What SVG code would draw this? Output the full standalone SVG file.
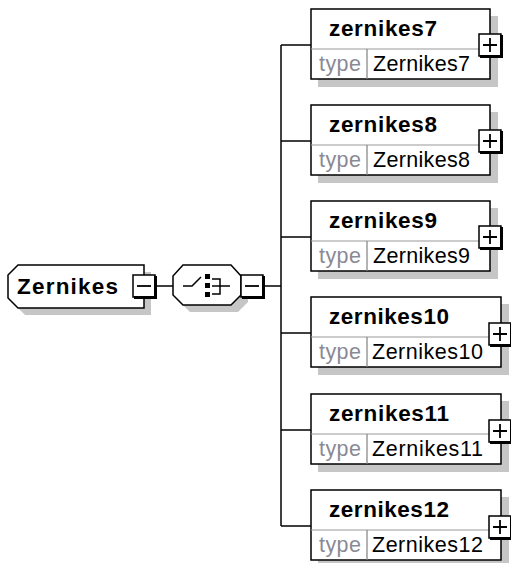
<svg xmlns="http://www.w3.org/2000/svg" xmlns:xlink="http://www.w3.org/1999/xlink" width="511" height="563" viewBox="0 0 511 563">
<style>
.bg{fill:#ffffff}
.shadow{fill:#c6c6c6;stroke:none}
.box{fill:#ffffff;stroke:#000000;stroke-width:1.5}
.div{stroke:#9a9a9a;stroke-width:1.2;fill:none}
.vdiv{stroke:#808080;stroke-width:1.2;fill:none}
.conn{stroke:#000000;stroke-width:1.5;fill:none}
.name{font-family:"Liberation Sans",Arial,sans-serif;font-weight:bold;font-size:22.5px;fill:#000000}
.lbl{font-family:"Liberation Sans",Arial,sans-serif;font-size:21.5px;fill:#8a8a94}
.val{font-family:"Liberation Sans",Arial,sans-serif;font-size:21.5px;fill:#000000}
.pm{stroke:#000000;stroke-width:1.8;fill:none}
</style>
<defs>
<g id="btn">
<rect x="-11" y="-11" width="22" height="22" fill="#ffffff" stroke="#000000" stroke-width="1.5"/>
<rect x="10" y="-10" width="3" height="23" fill="#000000"/>
<rect x="-10" y="10" width="23" height="3" fill="#000000"/>
</g>
<g id="plus">
<use xlink:href="#btn"/>
<path class="pm" d="M-7,0H7M0,-7V7"/>
</g>
<g id="minus">
<use xlink:href="#btn"/>
<path class="pm" d="M-7,0H7"/>
</g>
</defs>
<rect class="bg" x="0" y="0" width="511" height="563"/>

<g id="connectors">
<path class="conn" d="M156,286H173"/>
<path class="conn" d="M264,286H281"/>
<path class="conn" d="M281,45V526"/>
<path class="conn" d="M281,45H311"/>
<path class="conn" d="M281,141H311"/>
<path class="conn" d="M281,237H311"/>
<path class="conn" d="M281,333H311"/>
<path class="conn" d="M281,430H311"/>
<path class="conn" d="M281,526H311"/>
</g>

<g id="node-Zernikes">
<polygon class="shadow" points="25,272 151,272 151,315 25,315 15,305 15,282"/>
<polygon class="box" points="18,265 144,265 144,308 18,308 8,298 8,275"/>
<text class="name" x="17" y="294" textLength="101" lengthAdjust="spacing">Zernikes</text>
<use xlink:href="#minus" x="144" y="286"/>
</g>

<g id="node-sequence">
<polygon class="shadow" points="190,272 238,272 248,283 248,302 238,312 190,312 180,302 180,283"/>
<polygon class="box" points="183,265 231,265 241,276 241,295 231,305 183,305 173,295 173,276"/>
<path class="conn" d="M183,286H192L201,277"/>
<rect x="205" y="274" width="5" height="5" fill="#000"/>
<rect x="205" y="283" width="5" height="5" fill="#000"/>
<rect x="205" y="292" width="5" height="5" fill="#000"/>
<path class="conn" d="M212,279H220V294H212M212,286H230"/>
<use xlink:href="#minus" x="252" y="286"/>
</g>

<g id="node-zernikes7">
<rect class="shadow" x="318" y="16" width="180" height="71"/>
<rect class="box" x="311" y="9" width="179" height="70"/>
<path class="div" d="M311,49H490"/>
<path class="vdiv" d="M367,49V79"/>
<text class="name" x="329" y="36" textLength="108" lengthAdjust="spacing">zernikes7</text>
<text class="lbl" x="319" y="71" textLength="42" lengthAdjust="spacing">type</text>
<text class="val" x="373" y="71" textLength="97" lengthAdjust="spacing">Zernikes7</text>
<use xlink:href="#plus" x="490" y="45"/>
</g>

<g id="node-zernikes8">
<rect class="shadow" x="318" y="112" width="180" height="71"/>
<rect class="box" x="311" y="105" width="179" height="70"/>
<path class="div" d="M311,145H490"/>
<path class="vdiv" d="M367,145V175"/>
<text class="name" x="329" y="132" textLength="108" lengthAdjust="spacing">zernikes8</text>
<text class="lbl" x="319" y="167" textLength="42" lengthAdjust="spacing">type</text>
<text class="val" x="373" y="167" textLength="97" lengthAdjust="spacing">Zernikes8</text>
<use xlink:href="#plus" x="490" y="141"/>
</g>

<g id="node-zernikes9">
<rect class="shadow" x="318" y="208" width="180" height="71"/>
<rect class="box" x="311" y="201" width="179" height="70"/>
<path class="div" d="M311,241H490"/>
<path class="vdiv" d="M367,241V271"/>
<text class="name" x="329" y="228" textLength="108" lengthAdjust="spacing">zernikes9</text>
<text class="lbl" x="319" y="263" textLength="42" lengthAdjust="spacing">type</text>
<text class="val" x="373" y="263" textLength="97" lengthAdjust="spacing">Zernikes9</text>
<use xlink:href="#plus" x="490" y="237"/>
</g>

<g id="node-zernikes10">
<rect class="shadow" x="318" y="304" width="191" height="71"/>
<rect class="box" x="311" y="297" width="190" height="70"/>
<path class="div" d="M311,337H501"/>
<path class="vdiv" d="M367,337V367"/>
<text class="name" x="329" y="324" textLength="120" lengthAdjust="spacing">zernikes10</text>
<text class="lbl" x="319" y="359" textLength="42" lengthAdjust="spacing">type</text>
<text class="val" x="372" y="359" textLength="111" lengthAdjust="spacing">Zernikes10</text>
<use xlink:href="#plus" x="500" y="334"/>
</g>

<g id="node-zernikes11">
<rect class="shadow" x="318" y="401" width="191" height="71"/>
<rect class="box" x="311" y="394" width="190" height="70"/>
<path class="div" d="M311,434H501"/>
<path class="vdiv" d="M367,434V464"/>
<text class="name" x="329" y="421" textLength="120" lengthAdjust="spacing">zernikes11</text>
<text class="lbl" x="319" y="456" textLength="42" lengthAdjust="spacing">type</text>
<text class="val" x="372" y="456" textLength="111" lengthAdjust="spacing">Zernikes11</text>
<use xlink:href="#plus" x="500" y="431"/>
</g>

<g id="node-zernikes12">
<rect class="shadow" x="318" y="497" width="191" height="71"/>
<rect class="box" x="311" y="490" width="190" height="70"/>
<path class="div" d="M311,530H501"/>
<path class="vdiv" d="M367,530V560"/>
<text class="name" x="329" y="517" textLength="120" lengthAdjust="spacing">zernikes12</text>
<text class="lbl" x="319" y="552" textLength="42" lengthAdjust="spacing">type</text>
<text class="val" x="372" y="552" textLength="111" lengthAdjust="spacing">Zernikes12</text>
<use xlink:href="#plus" x="500" y="527"/>
</g>
</svg>
